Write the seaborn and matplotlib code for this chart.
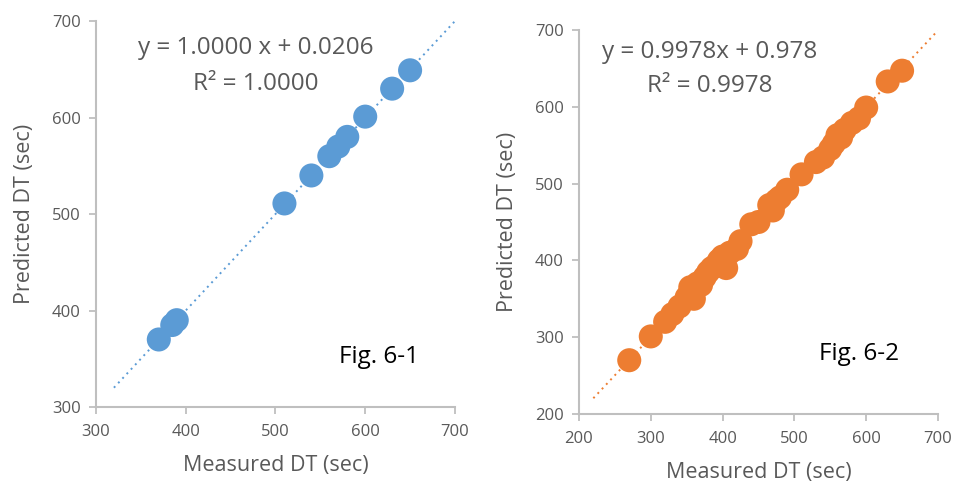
import numpy as np
import pandas as pd
import matplotlib
matplotlib.use("Agg")
import matplotlib.pyplot as plt
import seaborn as sns

# Fig. 6-1 data
measured_1 = [370, 385, 390, 510, 540, 560, 570, 580, 600, 630, 650]
predicted_1 = [370, 385, 390, 511, 540, 560, 570, 580, 601, 630, 649]
slope_1, intercept_1 = 1.0000, 0.0206

# Fig. 6-2 data
measured_2 = [270, 300, 320, 330, 340, 350, 355, 360, 365, 370, 375, 380, 385,
              390, 395, 400, 405, 410, 420, 425, 440, 450, 465, 470, 475, 480,
              490, 510, 530, 540, 550, 555, 560, 565, 570, 580, 590, 600, 630, 650]
predicted_2 = [270, 301, 320, 330, 340, 352, 365, 350, 370, 368, 378, 385, 390,
               393, 400, 405, 390, 410, 415, 425, 447, 450, 472, 465, 478, 482,
               492, 512, 528, 534, 545, 552, 563, 560, 570, 579, 585, 599, 633, 647]
slope_2, intercept_2 = 0.9978, 0.978

blue = "#5B9BD5"
orange = "#ED7D31"
gray_txt = "#595959"
spine_col = "#BFBFBF"

sns.set_style("ticks")
plt.rcParams['font.family'] = ['Open Sans', 'DejaVu Sans']

fig = plt.figure(figsize=(9.54, 4.83), dpi=100)
ax1 = fig.add_axes([0.1006, 0.1573, 0.3763, 0.799])
ax2 = fig.add_axes([0.6069, 0.1429, 0.3763, 0.795])


def 패널(ax, mx, py, slope, intercept, color, lo, line_lo, eq, r2, eq_pos, fig_lbl, fig_pos):
    df = pd.DataFrame({"m": mx, "p": py})
    xs = np.array([line_lo, 700])
    ax.plot(xs, slope * xs + intercept, color=color, linestyle=(0, (1, 2.2)), lw=1.4, zorder=1)
    sns.scatterplot(data=df, x="m", y="p", ax=ax, color=color, s=300, edgecolor="none",
                    alpha=1, zorder=3)
    ax.set_xlim(lo, 700)
    ax.set_ylim(lo, 700)
    ticks = np.arange(lo, 701, 100)
    ax.set_xticks(ticks)
    ax.set_yticks(ticks)
    ax.tick_params(colors=spine_col, labelcolor=gray_txt, labelsize=12, length=5, width=1.3)
    ax.tick_params(axis="x", pad=7)
    ax.tick_params(axis="y", pad=6)
    sns.despine(ax=ax)
    for s in ["left", "bottom"]:
        ax.spines[s].set_color(spine_col)
        ax.spines[s].set_linewidth(1.5)
    ax.set_xlabel("Measured DT (sec)", fontsize=15.5, color=gray_txt, labelpad=11)
    ax.set_ylabel("Predicted DT (sec)", fontsize=15.5, color=gray_txt, labelpad=12)
    ax.text(eq_pos[0], eq_pos[1], eq, ha="center", va="center", fontsize=17.5, color=gray_txt)
    ax.text(eq_pos[0], eq_pos[2], r2, ha="center", va="center", fontsize=17.5, color=gray_txt)
    ax.text(fig_pos[0], fig_pos[1], fig_lbl, ha="left", va="center", fontsize=17.5, color="black")


패널(ax1, measured_1, predicted_1, slope_1, intercept_1, blue, 300, 320,
     "y = 1.0000 x + 0.0206", "R² = 1.0000", (478, 672, 635), "Fig. 6-1", (571, 352))
패널(ax2, measured_2, predicted_2, slope_2, intercept_2, orange, 200, 220,
     "y = 0.9978x + 0.978", "R² = 0.9978", (382, 671, 627), "Fig. 6-2", (534, 278))

fig.savefig("out.png", dpi=100)
